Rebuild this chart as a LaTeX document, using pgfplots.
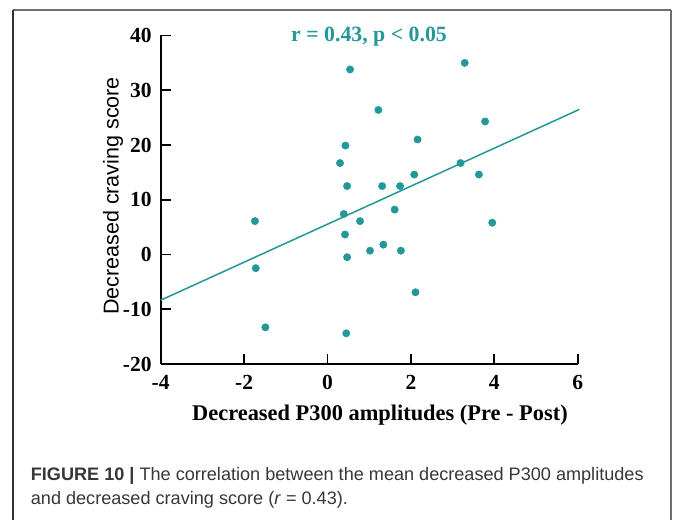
\documentclass[border=0pt]{standalone}
\usepackage{fontspec}
\setmainfont{Liberation Serif}
\newfontfamily\capfont{Liberation Sans}
\usepackage{pgfplots}
\pgfplotsset{compat=1.18}
\definecolor{teal1}{RGB}{35,152,152}
\definecolor{framegrey}{RGB}{110,110,110}
\definecolor{capgrey}{RGB}{55,55,55}
\begin{document}
\begin{tikzpicture}
\path[fill=white] (0pt,0pt) rectangle (675pt,520pt);
% frame
\draw[framegrey, line width=1.4pt] (13pt,510pt) -- (671pt,510pt);
\draw[black!80, line width=1.2pt] (13pt,510pt) -- (13pt,0pt);
\draw[framegrey, line width=1.4pt] (671pt,510pt) -- (671pt,0pt);
\begin{axis}[
  scale only axis,
  width=417pt, height=328.5pt,
  at={(160.7pt,156pt)}, anchor=south west,
  xmin=-4, xmax=6, ymin=-20, ymax=40,
  axis lines=left,
  axis line style={-, line width=1.8pt, black},
  xtick={-4,-2,...,6}, ytick={-20,-10,...,40},
  tick align=inside, major tick length=10pt,
  tick style={line width=1.8pt, black},
  /pgf/number format/assume math mode=true,
  ticklabel style={font=\fontsize{21.5}{21.5}\selectfont\bfseries},
  yticklabel style={inner sep=0pt, xshift=-9pt},
  xticklabel style={inner sep=0pt, yshift=-11pt},
  clip=false,
]
\addplot[teal1, line width=1.5pt, no marks] coordinates {(-4,-8.35) (6.04,26.5)};
\addplot[only marks, mark=*, mark size=3.7pt, teal1, mark options={draw=teal1, fill=teal1}] coordinates {
(0.54,33.8) (1.22,26.4) (0.43,19.9) (0.30,16.7) (0.47,12.5) (1.31,12.5) (0.39,7.4)
(-1.74,6.1) (-1.72,-2.5) (-1.49,-13.3) (0.45,-14.4) (0.42,3.65) (0.47,-0.5)
(0.78,6.1) (1.02,0.7) (1.34,1.8) (3.29,35.0) (3.78,24.3) (2.16,21.0) (3.19,16.7)
(2.08,14.6) (3.63,14.6) (1.74,12.5) (1.61,8.2) (3.95,5.8) (1.76,0.7) (2.11,-6.9)
};
\end{axis}
% annotation
\node[anchor=base, text=teal1, inner sep=0pt, font=\fontsize{21.8}{21.8}\selectfont\bfseries] at (369pt,478.3pt) {r = 0.43, p < 0.05};
% axis labels
\node[anchor=base, inner sep=0pt, font=\fontsize{22.4}{22.4}\selectfont\bfseries] at (380pt,99pt) {Decreased P300 amplitudes (Pre - Post)};
\node[anchor=base, rotate=90, inner sep=0pt, font=\capfont\fontsize{21.5}{21.5}\selectfont] at (118.5pt,324pt) {Decreased craving score};
% caption
\node[anchor=base west, inner sep=0pt, text=capgrey, font=\capfont\fontsize{18.1}{18.1}\selectfont] at (30.7pt,39.3pt) {\textbf{FIGURE 10 |} The correlation between the mean decreased P300 amplitudes};
\node[anchor=base west, inner sep=0pt, text=capgrey, font=\capfont\fontsize{18.1}{18.1}\selectfont] at (30.7pt,15pt) {and decreased craving score (\textit{r} = 0.43).};
\end{tikzpicture}
\end{document}
